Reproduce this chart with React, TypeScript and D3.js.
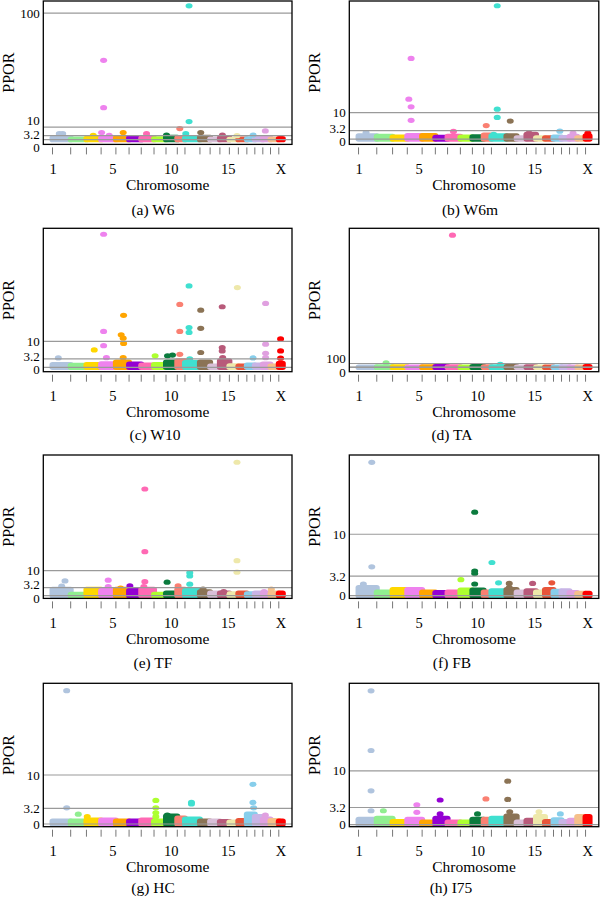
import React from "react";
import * as d3 from "d3";

// chromosome layout (marker counts per chromosome)
const chromosomes = ["1","2","3","4","5","6","7","8","9","10","11","12","13","14","15","16","17","18","19","20","X"];
const chrLength = [182,158,147,148,132,122,128,120,113,77,150,102,98,95,90,85,80,80,77,83,40];
const chrColors = ["#B0C4DE","#90EE90","#FFD700","#EE82EE","#FFA500","#9400D3","#FF69B4","#ADFF2F","#0B7B3E","#FA8072","#40E0D0","#8B7355","#D8BFD8","#B85A7A","#EEE8AA","#E8553A","#87CEEB","#C8B4E6","#E0A0E0","#F5C08A","#FF0000"];
const xLabels = ["1","5","10","15","X"];
const xLabelPos = [5, 605, 1190, 1760, 2290];

// per trait: height of the dense cloud per chromosome, and the standout points [position, PPOR]
const w6Base = [1.5,0.5,1,1.5,1.5,1.5,1.2,0.6,1.8,1.5,1.2,1.8,0.5,1.5,0.3,0.5,0.6,0.8,1.2,0.4,0.8];
const w6Points = [[1368,105.7],[512,62.7],[512,25.3],[1368,14.3],[1275,8.8],[492,5.6],[568,3.5],[2132,6.9],[708,5.6],[1485,5.6],[68,4.8],[102,4.8],[942,4.8],[1335,4.8],[1702,3.7],[2010,3.7],[1142,3.7],[408,3.5],[1848,3.2]];

const w6mBase = [1.2,1,0.8,1.3,1.3,0.7,1,0.8,0.9,1.5,1.2,1.2,0.5,1.8,0.5,0.5,0.8,0.6,1,0.5,1.2];
const w6mPoints = [[1385,50.4],[525,30.5],[502,15.1],[525,12.2],[525,7.1],[1385,11.3],[1385,8.2],[1515,6.8],[1275,5.1],[948,2.9],[75,2.5],[1702,2.3],[2010,3],[2142,2.3],[2290,2.3],[1350,1.8]];

const w10Base = [1,0.7,1,1.3,2,1.2,0.8,1,2,2.5,1.8,2,0.5,2.5,0.6,0.5,0.8,0.8,1.2,0.5,1.5];
const w10Points = [[512,51.2],[1368,31.3],[1852,30.7],[1275,24.2],[2135,24.6],[1700,23.3],[1485,22],[712,20],[1368,15.3],[1368,13.4],[1275,13.8],[1485,15],[512,13.8],[688,12.5],[708,11.2],[712,9.2],[512,8.3],[2285,10.9],[2285,6.3],[2285,3.5],[2135,8.9],[2135,5.4],[2135,3.7],[418,6.7],[1700,7.6],[1700,6.3],[1705,3.7],[1485,5.7],[1275,5],[1152,4.4],[1202,4.7],[1028,4.4],[58,3.6],[708,3.7],[540,3.7],[1375,3.2],[2010,3.6]];

const taBase = [12,15,15,12,18,20,15,10,25,15,18,25,10,18,10,10,10,15,10,10,25];
const taPoints = [[938,3313],[275,118],[1415,78]];

const tfBase = [2.5,0.5,2.5,2,2.5,2,2.5,0.5,1,2.5,2,1.5,1,1,0.7,1,0.7,1,1,1,1];
const tfPoints = [[1848,53.4],[925,42.7],[925,17.6],[1848,14],[1848,9.4],[1375,9.2],[1375,7.9],[1375,4.6],[1148,5.4],[558,6.2],[558,3.6],[125,5.9],[92,3.8],[925,5.6],[915,3.6],[775,3.9],[682,3],[1258,3.9],[1508,2.6],[1715,1.6],[2192,2.6],[2120,1.6]];

const fbBase = [1.3,0.6,1,1,0.6,0.5,0.6,0.9,0.9,0.6,0.8,1,0.6,0.8,0.6,1,0.7,0.8,0.5,0.4,0.4];
const fbPoints = [[132,21.7],[132,4.7],[1160,13.6],[1332,5.4],[1160,4],[1160,3.6],[1022,2.6],[1160,1.9],[1398,2.1],[1505,2],[1738,2],[1930,2.1],[48,1.9],[132,1.3],[1505,1.3]];

const hcBase = [0.6,0.6,0.8,0.8,0.6,0.6,0.8,0.6,1.6,1.2,1,0.6,0.6,0.5,0.4,0.7,2,1.5,1,0.7,0.6];
const hcPoints = [[142,27.2],[142,3.3],[2008,8.1],[2008,4.4],[2015,3.3],[1035,4.8],[1035,3.3],[1035,2.3],[1035,1.5],[1392,4.4],[1392,4.1],[258,2],[348,1.5],[1150,1.8],[2132,1.8]];

const i75Base = [1,1.2,0.6,1,0.5,1.2,0.5,0.5,1,1,1.2,1.6,0.5,0.8,1.5,0.6,0.9,0.6,0.8,1.5,1.5];
const i75Points = [[125,24.9],[125,13.8],[125,6.3],[1490,8.1],[1490,4.7],[1272,4.8],[815,4.6],[582,3.7],[582,2.3],[125,2.6],[248,2.6],[1510,2.4],[1802,2.4],[2015,2],[815,2],[1188,2]];

const panels = [
  { tag: "(a) W6", base: w6Base, points: w6Points, domain: [-3.7, 109.5], lines: [0, 3.2, 10, 100], labels: [0, 3.2, 10, 100] },
  { tag: "(b) W6m", base: w6mBase, points: w6mPoints, domain: [-2.0, 52.2], lines: [0, 3.2, 10], labels: [0, 3.2, 10] },
  { tag: "(c) W10", base: w10Base, points: w10Points, domain: [-1.7, 53.5], lines: [0, 3.2, 10], labels: [0, 3.2, 10] },
  { tag: "(d) TA", base: taBase, points: taPoints, domain: [-105, 3485], lines: [0, 3.2, 10, 100], labels: [0, 100] },
  { tag: "(e) TF", base: tfBase, points: tfPoints, domain: [-1.1, 56.3], lines: [0, 3.2, 10], labels: [0, 3.2, 10] },
  { tag: "(f) FB", base: fbBase, points: fbPoints, domain: [-0.44, 22.9], lines: [0, 3.2, 10], labels: [0, 3.2, 10] },
  { tag: "(g) HC", base: hcBase, points: hcPoints, domain: [-0.55, 28.7], lines: [0, 3.2, 10], labels: [0, 3.2, 10] },
  { tag: "(h) I75", base: i75Base, points: i75Points, domain: [-0.37, 26.3], lines: [0, 3.2, 10], labels: [0, 3.2, 10] },
];

const colLeft = [43.3, 349.3];
const colWidth = [248.7, 249.5];
const rowTop = [1, 228.3, 455, 683.3];
const boxH = 143.4;
const captionY = [215, 440, 668, 893];
const captionX = [153, 470, 155, 452, 153, 452, 153, 451];
const font = "'Liberation Serif', 'Times New Roman', serif";

const chrStart = chrLength.map((_, i) => d3.sum(chrLength.slice(0, i)));
const total = d3.sum(chrLength);

// push y labels apart when lines sit too close together
function spread(ys: number[], gap: number) {
  const out = ys.slice();
  for (let it = 0; it < 80; it++) {
    for (let i = 0; i < out.length - 1; i++) {
      const d = out[i] - out[i + 1];
      if (d < gap) {
        const m = (gap - d) / 2;
        out[i] += m;
        out[i + 1] -= m;
      }
    }
  }
  return out;
}

function Panel({ p, idx }: { p: any; idx: number }) {
  const col = idx % 2;
  const row = Math.floor(idx / 2);
  const left = colLeft[col];
  const w = colWidth[col];
  const top = rowTop[row];
  const bottom = top + boxH;

  const x = d3.scaleLinear().domain([-0.04 * total, 1.04 * total]).range([left, left + w]);
  const y = d3.scaleLinear().domain(p.domain).range([bottom, top]);
  const chrOf = (pos: number) => Math.max(0, d3.bisectRight(chrStart, pos) - 1);

  const labelYs = spread(p.labels.map((v: number) => y(v)), 13.5);

  return (
    <g>
      <defs>
        <clipPath id={`clip${idx}`}>
          <rect x={left} y={top} width={w} height={boxH} />
        </clipPath>
      </defs>
      <g clipPath={`url(#clip${idx})`}>
        {chrLength.map((len, i) => {
          const x0 = x(chrStart[i]) - 3;
          const x1 = x(chrStart[i] + len) + 3;
          const yt = y(p.base[i]) - 2.6;
          const yb = y(0) + 2.6;
          return (
            <rect key={"m" + i} x={x0} y={yt} width={x1 - x0} height={yb - yt}
              rx={3} ry={2.6} fill={chrColors[i]} />
          );
        })}
        {p.points.map((d: number[], i: number) => (
          <ellipse key={"p" + i} cx={x(d[0])} cy={y(d[1])} rx={3.5} ry={2.6}
            fill={chrColors[chrOf(d[0])]} />
        ))}
        {p.lines.map((v: number) => (
          <line key={"l" + v} x1={left} x2={left + w} y1={y(v)} y2={y(v)}
            stroke="#9a9a9a" strokeWidth={1.2} />
        ))}
      </g>
      <rect x={left} y={top} width={w} height={boxH} fill="none" stroke="#000" strokeWidth={1.3} />
      {chrStart.map((s, i) => (
        <line key={"t" + i} x1={x(s)} x2={x(s)} y1={bottom + 3} y2={bottom + 10}
          stroke="#777" strokeWidth={1} />
      ))}
      {xLabels.map((lab, i) => (
        <text key={"xl" + i} x={x(xLabelPos[i])} y={bottom + 29.5} textAnchor="middle"
          fontFamily={font} fontSize={14.5}>{lab}</text>
      ))}
      <text x={left + w / 2} y={bottom + 45.5} textAnchor="middle" fontFamily={font} fontSize={15.5}>Chromosome</text>
      {p.labels.map((v: number, i: number) => (
        <text key={"yl" + v} x={left - 3.5} y={labelYs[i]} dy="0.35em" textAnchor="end"
          fontFamily={font} fontSize={13}>{String(v)}</text>
      ))}
      <text transform={`translate(${left - 35},${top + boxH / 2}) rotate(-90)`} textAnchor="middle"
        dy="0.35em" fontFamily={font} fontSize={16}>PPOR</text>
      <text x={captionX[idx]} y={captionY[row]} textAnchor="middle" fontFamily={font} fontSize={15.5}>{p.tag}</text>
    </g>
  );
}

export default function App() {
  return (
    <svg width={600} height={902} style={{ position: "absolute", left: 0, top: 0, background: "#fff" }}>
      <rect width={600} height={902} fill="#fff" />
      {panels.map((p, i) => (
        <Panel key={p.tag} p={p} idx={i} />
      ))}
    </svg>
  );
}
